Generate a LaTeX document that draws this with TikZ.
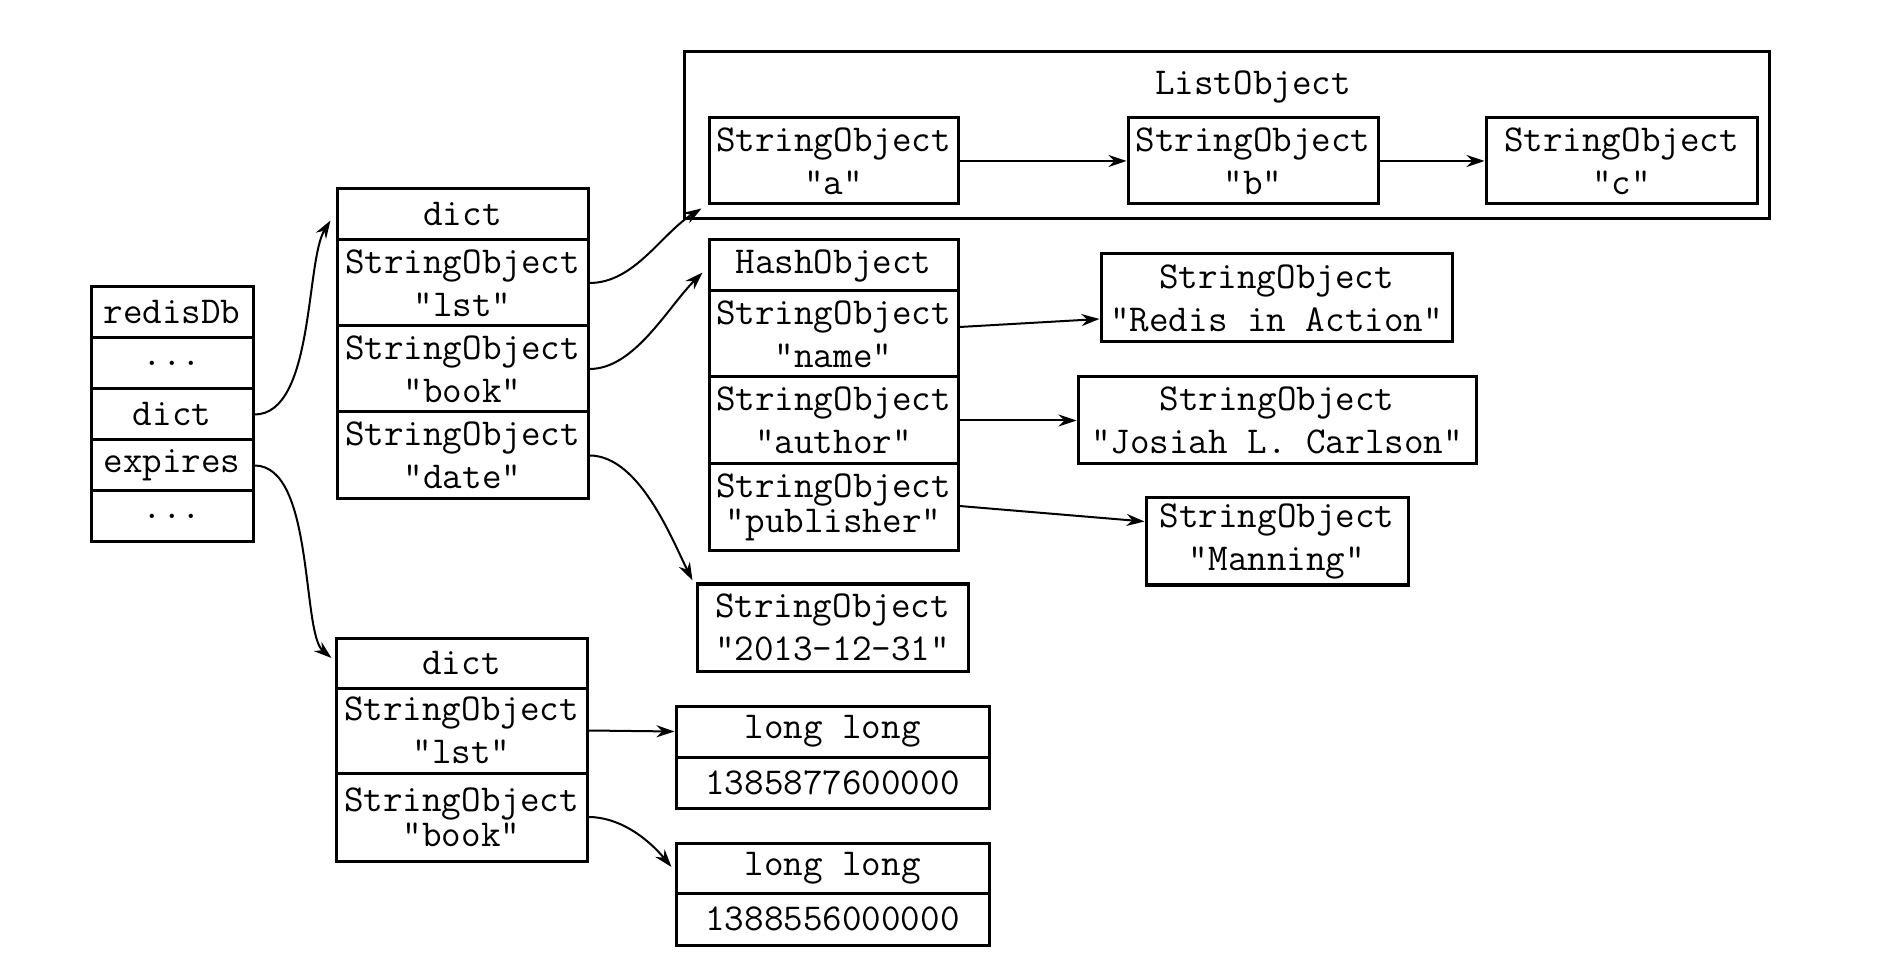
\documentclass[tikz,border=0pt]{standalone}
\usetikzlibrary{arrows.meta,calc}
\begin{document}
\begin{tikzpicture}[x=0.5pt,y=-0.5pt,
  cell/.style={draw, line width=1.5pt, inner sep=0pt, align=center,
    font=\ttfamily\fontsize{19}{21.5}\selectfont},
  tight/.style={font=\ttfamily\fontsize{19}{17.5}\selectfont},
  sz/.style 2 args={minimum width=#1*0.5pt, minimum height=#2*0.5pt},
  arr/.style={-{Stealth[length=9pt,width=6pt]}, line width=1pt},
  title/.style={inner sep=0pt, font=\ttfamily\fontsize{19}{21.5}\selectfont}]
\useasboundingbox (0,0) rectangle (1900,967);

% redisDb
\node[cell, sz={162}{51}] (r1) at (172,312.5) {redisDb};
\node[cell, sz={162}{51}] (r2) at (172,363.5) {...};
\node[cell, sz={162}{51}] (r3) at (172,414.5) {dict};
\node[cell, sz={162}{51}] (r4) at (172,465.5) {expires};
\node[cell, sz={162}{51}] (r5) at (172,516.5) {...};

% dict 1
\node[cell, sz={251}{51}] (d1h) at (462.5,214.5) {dict};
\node[cell, sz={251}{86}] (d1a) at (462.5,283) {StringObject\\"lst"};
\node[cell, sz={251}{86}] (d1b) at (462.5,369) {StringObject\\"book"};
\node[cell, sz={251}{87}] (d1c) at (462.5,455.5) {StringObject\\"date"};

% ListObject
\node[draw, line width=1.5pt, sz={1085}{167}] (list) at (1226.5,135.5) {};
\node[title] (lt) at (1253,87) {ListObject};
\node[cell, sz={249}{86}] (la) at (833.5,161) {StringObject\\"a"};
\node[cell, sz={250}{86}] (lb) at (1253,161) {StringObject\\"b"};
\node[cell, sz={271}{86}] (lc) at (1621.5,161) {StringObject\\"c"};

% HashObject
\node[cell, sz={249}{51}] (hh) at (833.5,265.5) {HashObject};
\node[cell, sz={249}{86}] (hn) at (833.5,334) {StringObject\\"name"};
\node[cell, sz={249}{87}] (ha) at (833.5,420.5) {StringObject\\"author"};
\node[cell, tight, sz={249}{87}] (hp) at (833.5,507.5) {StringObject\\"publisher"};

\node[cell, sz={351}{88}] (redis) at (1276.5,298) {StringObject\\"Redis in Action"};
\node[cell, sz={398}{87}] (josiah) at (1277,420.5) {StringObject\\"Josiah L. Carlson"};
\node[cell, sz={262}{87}] (manning) at (1277,541.5) {StringObject\\"Manning"};
\node[cell, sz={271}{87}] (date) at (832.5,627.5) {StringObject\\"2013-12-31"};

% dict 2
\node[cell, sz={251}{50}] (d2h) at (461.5,663) {dict};
\node[cell, sz={251}{85}] (d2a) at (461.5,730.5) {StringObject\\"lst"};
\node[cell, tight, sz={251}{88}] (d2b) at (461.5,817) {StringObject\\"book"};

% long long
\node[cell, sz={313}{51}] (l1h) at (832.5,731.5) {long long};
\node[cell, sz={313}{51}] (l1v) at (832.5,782.5) {1385877600000};
\node[cell, sz={313}{50}] (l2h) at (832.5,868) {long long};
\node[cell, sz={313}{52}] (l2v) at (832.5,919) {1388556000000};

% connectors
\draw[arr] (r3.east) .. controls +(60,0) and +(-25,40) .. ($(d1h.west)+(-5,6)$);
\draw[arr] (r4.east) .. controls +(60,0) and +(-30,-25) .. ($(d2h.west)+(-3,-5)$);
\draw[arr] (d1a.east) .. controls +(45,0) and +(-40,25) .. ($(la.south west)+(-6,3)$);
\draw[arr] (d1b.east) .. controls +(45,0) and +(-35,35) .. ($(hh.west)+(-5,7)$);
\draw[arr] (d1c.east) .. controls +(50,0) and +(-20,-40) .. ($(date.north west)+(-3,-2)$);
\draw[arr] ($(hn.east)+(0,-7)$) -- ($(redis.west)+(0,21)$);
\draw[arr] (ha.east) -- (josiah.west);
\draw[arr] ($(hp.east)+(0,-1.5)$) -- ($(manning.west)+(0,-20)$);
\draw[arr] (la.east) -- (lb.west);
\draw[arr] (lb.east) -- (lc.west);
\draw[arr] (d2a.east) -- (l1h.west);
\draw[arr] (d2b.east) .. controls +(30,0) and +(-25,-30) .. ($(l2h.west)+(-3,-1)$);
\end{tikzpicture}
\end{document}
